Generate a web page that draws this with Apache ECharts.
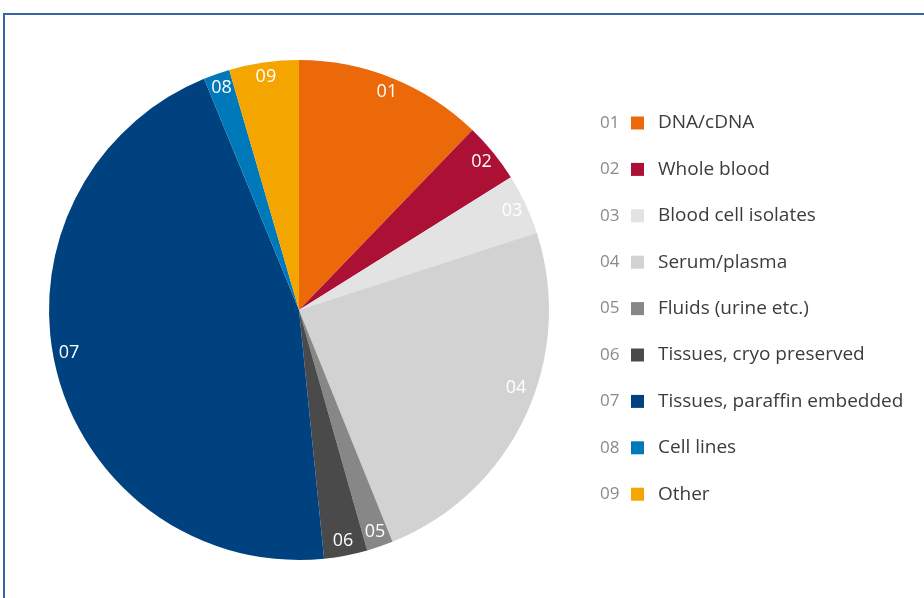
<!DOCTYPE html>
<html>
<head>
<meta charset="utf-8">
<script src="https://cdn.jsdelivr.net/npm/echarts@6/dist/echarts.min.js"></script>
<style>
html,body{margin:0;padding:0;background:#fff;}
#chart{width:924px;height:598px;}
</style>
</head>
<body>
<div id="chart"></div>
<script>
// ---- data ----
const codes = ['01','02','03','04','05','06','07','08','09'];
const categories = ['DNA/cDNA','Whole blood','Blood cell isolates','Serum/plasma','Fluids (urine etc.)','Tissues, cryo preserved','Tissues, paraffin embedded','Cell lines','Other'];
const values = [12.2, 3.9, 3.9, 23.9, 1.7, 2.8, 45.4, 1.7, 4.5];
// ---- styles ----
const colors = ['#EB6909','#AD1035','#E3E3E3','#D2D2D2','#878787','#4A4A4A','#00427F','#0079BA','#F5A500'];
const labelNudge = {3: [4, -22], 6: [-2, -14]};

const chart = echarts.init(document.getElementById('chart'));
const font = '"Open Sans", "Noto Sans", sans-serif';

const rich = {
  n: {fontSize: 17, color: '#8a8a8a', fontFamily: font, width: 31, align: 'left'},
  t: {fontSize: 19, color: '#3c3c3c', fontFamily: font, padding: [0,0,0,14]}
};
colors.forEach((c, i) => {
  rich['c' + i] = {backgroundColor: c, width: 13, height: 13};
});

const mainData = categories.map((name, i) => ({value: values[i], name, itemStyle: {color: colors[i]}}));
const labelData = categories.map((name, i) => {
  const d = {value: values[i], name: name + ' ', label: {formatter: codes[i]}};
  if (labelNudge[i]) d.label.offset = labelNudge[i];
  return d;
});

chart.setOption({
  animation: false,
  graphic: [{
    type: 'rect', silent: true,
    shape: {x: 4, y: 14, width: 1200, height: 1200},
    style: {fill: 'none', stroke: '#3767A0', lineWidth: 2}
  }],
  legend: {
    orient: 'vertical',
    left: 590, top: 108,
    icon: 'none', itemWidth: 0, itemHeight: 20,
    itemGap: 26.9,
    data: categories,
    selectedMode: false,
    formatter: function (name) {
      const i = categories.indexOf(name);
      return '{n|' + codes[i] + '}{c' + i + '|}{t|' + name + '}';
    },
    textStyle: {rich: rich, fontFamily: font}
  },
  series: [{
    type: 'pie',
    center: [299, 310],
    radius: [0, 250],
    startAngle: 90,
    clockwise: true,
    label: {show: false},
    labelLine: {show: false},
    emphasis: {disabled: true},
    itemStyle: {borderWidth: 0},
    data: mainData
  }, {
    type: 'pie',
    center: [299, 310],
    radius: [214, 250],
    startAngle: 90,
    clockwise: true,
    silent: true,
    itemStyle: {color: 'rgba(0,0,0,0)'},
    label: {show: true, position: 'inside', color: '#fff', fontSize: 18, fontFamily: font},
    labelLine: {show: false},
    emphasis: {disabled: true},
    data: labelData
  }]
});
</script>
</body>
</html>
